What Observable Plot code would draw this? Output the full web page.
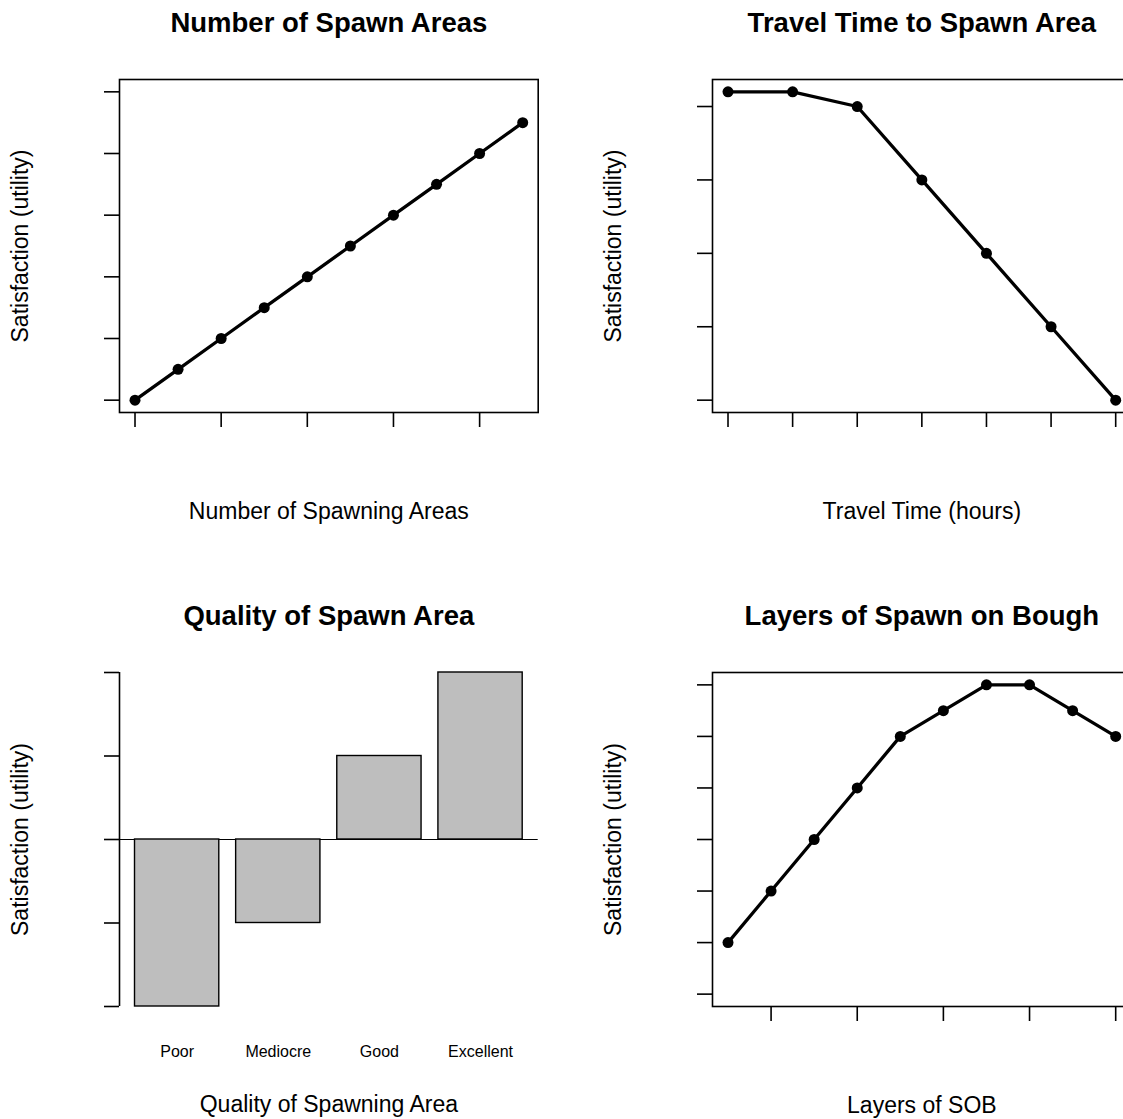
<!DOCTYPE html>
<html>
<head>
<meta charset="utf-8">
<script src="https://cdn.jsdelivr.net/npm/d3@7"></script>
<script src="https://cdn.jsdelivr.net/npm/@observablehq/plot@0.6"></script>
<style>
  html, body { margin: 0; padding: 0; background: #fff; overflow: hidden; }
  #chart { position: relative; width: 1123px; height: 1119px; overflow: hidden; background: #fff; }
  #chart svg { position: absolute; }
</style>
</head>
<body>
<div id="chart"></div>
<script>
// ---- data ----
const panelTitles = ["Number of Spawn Areas", "Travel Time to Spawn Area", "Quality of Spawn Area", "Layers of Spawn on Bough"];
const xTitles = ["Number of Spawning Areas", "Travel Time (hours)", "Quality of Spawning Area", "Layers of SOB"];
const yTitle = "Satisfaction (utility)";

const spawnX = [0, 1, 2, 3, 4, 5, 6, 7, 8, 9];
const spawnY = [0, 0.1, 0.2, 0.3, 0.4, 0.5, 0.6, 0.7, 0.8, 0.9];
const spawnXTicks = [0, 2, 4, 6, 8];
const spawnYTicks = [0, 0.2, 0.4, 0.6, 0.8, 1.0];

const travelX = [1, 2, 3, 4, 5, 6, 7];
const travelY = [4.2, 4.2, 4, 3, 2, 1, 0];
const travelXTicks = [1, 2, 3, 4, 5, 6, 7];
const travelYTicks = [0, 1, 2, 3, 4];

const qualityCats = ["Poor", "Mediocre", "Good", "Excellent"];
const qualityY = [-2, -1, 1, 2];
const qualityYTicks = [-2, -1, 0, 1, 2];
const barSpace = 0.2, barWidth = 1;

const layersX = [1, 2, 3, 4, 5, 6, 7, 8, 9, 10];
const layersY = [1, 2, 3, 4, 5, 5.5, 6, 6, 5.5, 5];
const layersXTicks = [2, 4, 6, 8, 10];
const layersYTicks = [0, 1, 2, 3, 4, 5, 6];

// R-style 4% axis extension
const ext = (lo, hi) => { const d = (hi - lo) * 0.04; return [lo - d, hi + d]; };

const FONT = "'Liberation Sans', Arial, Helvetica, sans-serif";
const chart = document.getElementById("chart");

const SVG_W = 580, PLOT_W = 418.7, ML = 119;

function labels(i, opts = {}) {
  return [
    Plot.text([panelTitles[i]], {text: d => d, frameAnchor: "top", lineAnchor: "bottom", dy: -47.3, fontSize: 27.5, fontWeight: "bold", fill: "black"}),
    Plot.text([xTitles[i]], {text: d => d, frameAnchor: "bottom", lineAnchor: "bottom", dy: opts.xdy ?? 106.2, fontSize: 23, fill: "black"}),
    Plot.text([yTitle], {text: d => d, frameAnchor: "left", textAnchor: "middle", lineAnchor: "bottom", rotate: -90, dx: -92, fontSize: 23, fill: "black"})
  ];
}

function panel({left, top, height, regionH, x, y, marks}) {
  const svg = Plot.plot({
    width: SVG_W,
    height,
    marginLeft: ML,
    marginRight: SVG_W - ML - PLOT_W,
    marginTop: 79,
    marginBottom: height - 79 - regionH,
    x, y,
    style: {fontFamily: FONT, color: "black", background: "white", overflow: "visible"},
    marks
  });
  svg.style.left = left + "px";
  svg.style.top = top + "px";
  chart.appendChild(svg);
}

const axisStyle = {tickSize: 15, tickFormat: () => "", label: null, strokeWidth: 1.6};

function linePanel(i, left, top, height, regionH, xs, ys, xDom, yDom, xTicks, yTicks) {
  const data = xs.map((v, k) => ({x: v, y: ys[k]}));
  panel({
    left, top, height, regionH,
    x: {domain: xDom}, y: {domain: yDom},
    marks: [
      Plot.frame({stroke: "black", strokeWidth: 1.6}),
      Plot.axisX({...axisStyle, ticks: xTicks}),
      Plot.axisY({...axisStyle, ticks: yTicks}),
      Plot.line(data, {x: "x", y: "y", stroke: "black", strokeWidth: 3.3}),
      Plot.dot(data, {x: "x", y: "y", r: 5.5, fill: "black", stroke: "none"}),
      ...labels(i)
    ]
  });
}

// Top-left
linePanel(0, 0, 0, 560, 333, spawnX, spawnY, ext(0, 9), ext(0, 1), spawnXTicks, spawnYTicks);
// Top-right
linePanel(1, 592.7, 0, 560, 333, travelX, travelY, ext(1, 7), ext(0, 4.2), travelXTicks, travelYTicks);
// Bottom-right
linePanel(3, 592.7, 593, 526, 334, layersX, layersY, ext(1, 10), ext(0, 6), layersXTicks, layersYTicks);

// Bottom-left: bar chart (R barplot layout: width 1, space 0.2)
const qualityData = qualityCats.map((c, k) => {
  const x1 = barSpace + k * (barWidth + barSpace);
  return {cat: c, value: qualityY[k], x1, x2: x1 + barWidth, xc: x1 + barWidth / 2};
});
const qX = ext(barSpace, qualityCats.length * (barWidth + barSpace));
panel({
  left: 0, top: 593, height: 526, regionH: 334,
  x: {domain: qX, axis: null}, y: {domain: [-2, 2]},
  marks: [
    Plot.ruleY([0], {stroke: "black", strokeWidth: 1.2}),
    Plot.ruleX([qX[0]], {y1: -2, y2: 2, stroke: "black", strokeWidth: 1.6}),
    Plot.axisY({...axisStyle, ticks: qualityYTicks}),
    Plot.rectY(qualityData, {x1: "x1", x2: "x2", y1: 0, y2: "value", fill: "#bebebe", stroke: "black", strokeWidth: 1.4}),
    Plot.text(qualityData, {x: "xc", text: "cat", frameAnchor: "bottom", lineAnchor: "bottom", dy: 50.7, fontSize: 16, fill: "black"}),
    ...labels(2, {xdy: 105.7})
  ]
});
</script>
</body>
</html>
